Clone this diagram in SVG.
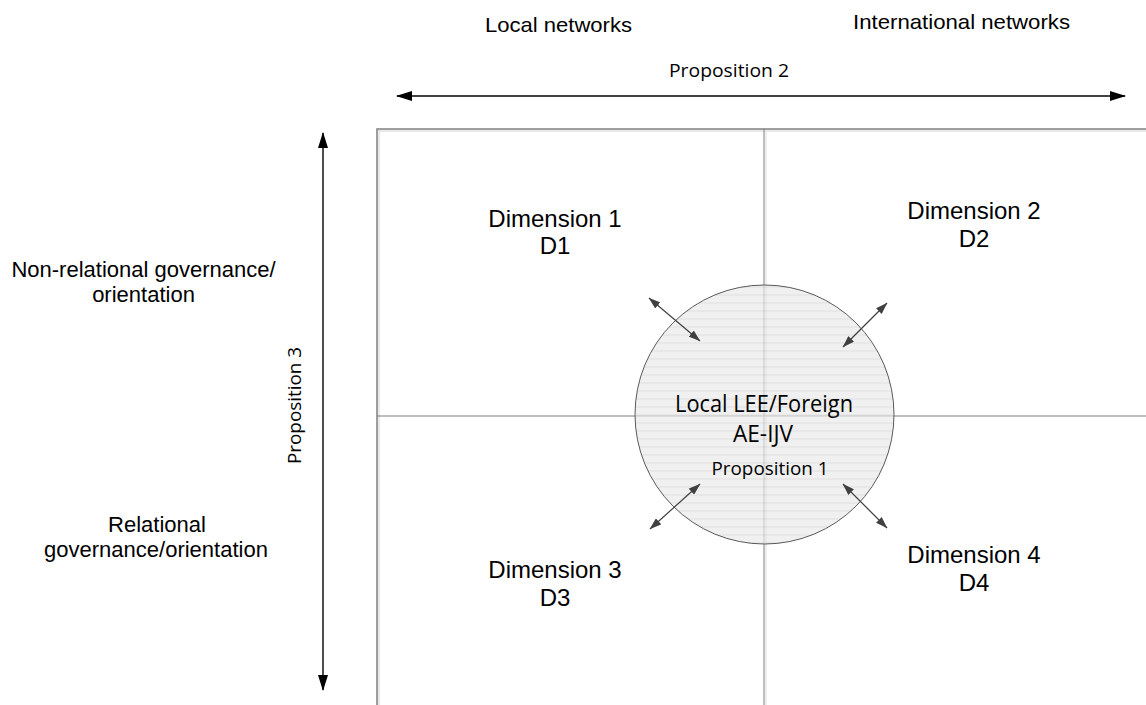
<svg xmlns="http://www.w3.org/2000/svg" width="1146" height="705" viewBox="0 0 1146 705">
  <style>
    .arial { font-family: "Liberation Sans", Arial, sans-serif; fill: #000; }
    .cal { font-family: "Open Sans", "Noto Sans", sans-serif; fill: #000; }
    .div { stroke: #7f7f7f; stroke-width: 1; fill: none; }
    .axis { stroke: #000; stroke-width: 1.4; fill: none; }
    .diag { stroke: #404040; stroke-width: 1.2; fill: none; }
  </style>
  <defs>
    <marker id="ah" viewBox="0 0 16 10" refX="15" refY="5" markerWidth="16" markerHeight="10" markerUnits="userSpaceOnUse" orient="auto-start-reverse">
      <path d="M0,0 L16,5 L0,10 Z" fill="#000"/>
    </marker>
    <marker id="dh" viewBox="0 0 12 8" refX="11.5" refY="4" markerWidth="12" markerHeight="8" markerUnits="userSpaceOnUse" orient="auto-start-reverse">
      <path d="M0,0 L12,4 L0,8 Z" fill="#404040"/>
    </marker>
    <pattern id="stripes" width="8" height="8" patternUnits="userSpaceOnUse">
      <rect width="8" height="8" fill="#e9e9e9"/>
      <rect y="6" width="8" height="2" fill="#dedede"/>
    </pattern>
  </defs>

  <rect width="1146" height="705" fill="#fff"/>

  <g id="quadrant-frame">
    <rect x="379" y="131" width="800" height="600" fill="none" stroke="#e8e8e8" stroke-width="2"/>
    <rect x="377" y="129" width="800" height="600" fill="none" stroke="#7f7f7f" stroke-width="1.5"/>
    <line class="div" x1="764" y1="129" x2="764" y2="705"/>
    <line x1="766" y1="131" x2="766" y2="705" stroke="#e8e8e8" stroke-width="1.5"/>
    <line class="div" x1="377" y1="416" x2="1146" y2="416"/>
  </g>

  <g id="top-labels">
    <text class="arial" x="558.5" y="32" font-size="21" text-anchor="middle" textLength="147" lengthAdjust="spacingAndGlyphs">Local networks</text>
    <text class="arial" x="961.5" y="29" font-size="21" text-anchor="middle" textLength="217" lengthAdjust="spacingAndGlyphs">International networks</text>
    <text class="cal" x="729" y="77" font-size="19" text-anchor="middle" textLength="120" lengthAdjust="spacingAndGlyphs">Proposition 2</text>
  </g>

  <g id="left-labels">
    <text class="arial" font-size="22" text-anchor="middle"><tspan x="143.5" y="277">Non-relational governance/</tspan><tspan x="143.5" y="302">orientation</tspan></text>
    <text class="arial" font-size="22" text-anchor="middle"><tspan x="157" y="532">Relational</tspan><tspan x="156" y="557">governance/orientation</tspan></text>
    <text class="cal" font-size="19" text-anchor="middle" transform="translate(301,405.5) rotate(-90)" textLength="117" lengthAdjust="spacingAndGlyphs">Proposition 3</text>
  </g>

  <g id="connectors">
    <line class="axis" x1="397" y1="96" x2="1125" y2="96" marker-start="url(#ah)" marker-end="url(#ah)"/>
    <line class="axis" x1="323" y1="133" x2="323" y2="690" marker-start="url(#ah)" marker-end="url(#ah)"/>
  </g>

  <g id="center-circle">
    <circle cx="764.5" cy="414.5" r="129.5" fill="url(#stripes)" fill-opacity="0.7" stroke="#595959" stroke-width="1"/>
    <text class="cal" x="764" y="412" font-size="23" text-anchor="middle" textLength="178" lengthAdjust="spacingAndGlyphs">Local LEE/Foreign</text>
    <text class="cal" x="763" y="442" font-size="23" text-anchor="middle" textLength="60" lengthAdjust="spacingAndGlyphs">AE-IJV</text>
    <text class="cal" x="770" y="475" font-size="19" text-anchor="middle" textLength="117" lengthAdjust="spacingAndGlyphs">Proposition 1</text>
  </g>

  <g id="circle-arrows">
    <line class="diag" x1="649" y1="298" x2="700" y2="341" marker-start="url(#dh)" marker-end="url(#dh)"/>
    <line class="diag" x1="887" y1="303" x2="843" y2="347" marker-start="url(#dh)" marker-end="url(#dh)"/>
    <line class="diag" x1="700" y1="484" x2="650" y2="529" marker-start="url(#dh)" marker-end="url(#dh)"/>
    <line class="diag" x1="843" y1="484" x2="887" y2="528" marker-start="url(#dh)" marker-end="url(#dh)"/>
  </g>

  <g id="dimension-1">
    <text class="arial" font-size="24" text-anchor="middle"><tspan x="555" y="227">Dimension 1</tspan><tspan x="555" y="254">D1</tspan></text>
  </g>
  <g id="dimension-2">
    <text class="arial" font-size="24" text-anchor="middle"><tspan x="974" y="219">Dimension 2</tspan><tspan x="974" y="247">D2</tspan></text>
  </g>
  <g id="dimension-3">
    <text class="arial" font-size="24" text-anchor="middle"><tspan x="555" y="578">Dimension 3</tspan><tspan x="555" y="606">D3</tspan></text>
  </g>
  <g id="dimension-4">
    <text class="arial" font-size="24" text-anchor="middle"><tspan x="974" y="563">Dimension 4</tspan><tspan x="974" y="591">D4</tspan></text>
  </g>
</svg>
